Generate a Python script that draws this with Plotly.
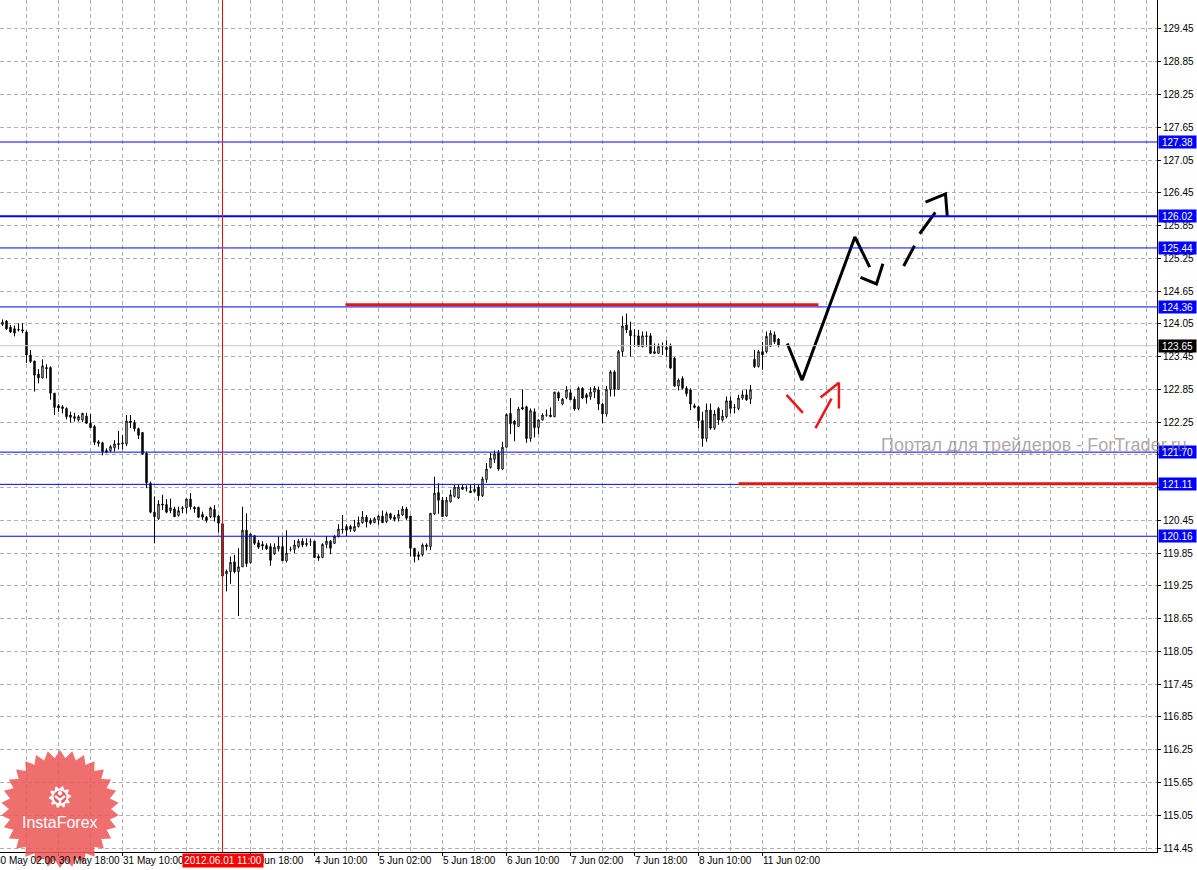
import math
import plotly.graph_objects as go

# ---------------- data ----------------
first_index = 2  # hour index of first visible candle (index 0 = 30 May 02:00)

open_ = [124.04, 124.10, 123.99, 123.96, 123.95, 123.94, 123.90, 123.48, 123.37, 123.13,
         123.06, 123.25, 123.25, 122.78, 122.55, 122.53, 122.50, 122.38, 122.35, 122.29,
         122.29, 122.36, 122.23, 122.17, 121.89, 121.87, 121.73, 121.73, 121.78, 121.86,
         121.85, 121.85, 122.27, 122.24, 122.13, 122.06, 121.68, 121.13, 120.60, 120.48,
         120.75, 120.74, 120.63, 120.66, 120.54, 120.68, 120.68, 120.84, 120.69, 120.69,
         120.56, 120.51, 120.52, 120.65, 120.53, 120.39, 119.47, 119.51, 119.69, 119.51,
         119.60, 120.27, 119.68, 120.17, 120.04, 120.01, 119.99, 119.97, 119.84, 119.93,
         119.97, 119.71, 119.92, 119.92, 119.97, 120.07, 120.03, 120.06, 120.07, 119.79,
         119.77, 120.01, 120.07, 120.03, 120.15, 120.29, 120.34, 120.34, 120.26, 120.34,
         120.41, 120.51, 120.45, 120.41, 120.46, 120.53, 120.43, 120.57, 120.51, 120.49,
         120.55, 120.66, 120.53, 119.94, 119.82, 119.82, 120.00, 119.97, 120.57, 120.96,
         120.82, 120.53, 120.79, 120.89, 120.86, 121.06, 121.04, 120.99, 120.98, 121.06,
         120.90, 121.20, 121.42, 121.57, 121.69, 121.39, 121.79, 122.41, 122.27, 122.17,
         122.52, 122.53, 121.95, 122.44, 122.15, 122.29, 122.38, 122.38, 122.35, 122.79,
         122.58, 122.70, 122.79, 122.67, 122.50, 122.87, 122.75, 122.72, 122.80, 122.84,
         122.58, 122.40, 122.85, 123.17, 122.85, 123.54, 124.03, 123.93, 123.83, 123.83,
         123.63, 123.83, 123.83, 123.54, 123.51, 123.63, 123.62, 123.66, 123.42, 122.91,
         123.05, 122.87, 122.84, 122.55, 122.53, 122.28, 121.95, 122.47, 122.14, 122.50,
         122.29, 122.35, 122.64, 122.52, 122.50, 122.69, 122.75, 122.67, 123.40, 123.27,
         123.54, 123.54, 123.64, 123.85, 123.77]
high = [124.13, 124.12, 124.03, 124.02, 124.06, 124.06, 123.93, 123.57, 123.37, 123.22,
        123.40, 123.31, 123.27, 122.78, 122.58, 122.56, 122.52, 122.44, 122.42, 122.38,
        122.42, 122.42, 122.40, 122.20, 121.92, 121.89, 121.77, 121.83, 121.92, 122.09,
        122.01, 122.38, 122.38, 122.29, 122.15, 122.07, 121.71, 121.16, 120.89, 120.82,
        120.92, 120.84, 120.85, 120.70, 120.70, 120.71, 120.85, 120.95, 120.71, 120.70,
        120.61, 120.53, 120.70, 120.73, 120.55, 120.39, 119.55, 119.79, 119.82, 119.94,
        120.70, 120.58, 120.21, 120.18, 120.09, 120.07, 120.03, 120.03, 120.03, 120.15,
        120.15, 120.27, 119.97, 120.09, 120.11, 120.12, 120.12, 120.12, 120.07, 119.83,
        120.03, 120.16, 120.09, 120.18, 120.38, 120.55, 120.38, 120.37, 120.46, 120.52,
        120.62, 120.55, 120.49, 120.51, 120.55, 120.63, 120.61, 120.59, 120.55, 120.64,
        120.71, 120.70, 120.53, 119.94, 119.88, 120.03, 120.03, 120.58, 121.25, 121.13,
        120.88, 120.88, 121.01, 121.10, 121.10, 121.10, 121.09, 121.10, 121.12, 121.10,
        121.25, 121.50, 121.69, 121.73, 121.74, 121.89, 122.41, 122.69, 122.29, 122.53,
        122.85, 122.55, 122.50, 122.50, 122.30, 122.41, 122.48, 122.52, 122.80, 122.81,
        122.69, 122.91, 122.85, 122.72, 122.90, 122.89, 122.78, 122.89, 122.91, 122.90,
        122.60, 122.91, 123.20, 123.20, 123.57, 124.19, 124.24, 124.09, 123.95, 123.94,
        123.91, 123.91, 123.88, 123.69, 123.69, 123.71, 123.75, 123.69, 123.44, 123.05,
        123.09, 122.91, 122.87, 122.59, 122.55, 122.44, 122.59, 122.59, 122.47, 122.53,
        122.47, 122.72, 122.72, 122.58, 122.75, 122.83, 122.85, 122.93, 123.57, 123.57,
        123.72, 123.91, 123.93, 123.91, 123.79]
low = [124.01, 123.94, 123.88, 123.82, 123.91, 123.88, 123.33, 123.33, 122.81, 122.96,
       123.05, 123.05, 122.66, 122.38, 122.44, 122.41, 122.30, 122.24, 122.26, 122.26,
       122.25, 122.22, 122.14, 121.83, 121.80, 121.64, 121.68, 121.70, 121.71, 121.75,
       121.75, 121.81, 122.14, 122.08, 121.94, 121.65, 121.04, 120.58, 120.03, 120.46,
       120.64, 120.58, 120.58, 120.51, 120.52, 120.58, 120.58, 120.65, 120.59, 120.49,
       120.46, 120.41, 120.49, 120.43, 120.23, 119.42, 119.15, 119.29, 119.48, 118.70,
       119.60, 119.60, 119.66, 120.00, 119.93, 119.91, 119.91, 119.62, 119.82, 119.88,
       119.71, 119.68, 119.88, 119.85, 119.94, 119.96, 119.97, 119.98, 119.76, 119.71,
       119.76, 119.94, 119.83, 120.02, 120.14, 120.21, 120.16, 120.24, 120.24, 120.32,
       120.39, 120.32, 120.37, 120.40, 120.37, 120.40, 120.40, 120.46, 120.43, 120.43,
       120.53, 120.46, 119.79, 119.68, 119.72, 119.79, 119.90, 119.91, 120.55, 120.57,
       120.51, 120.52, 120.78, 120.87, 120.84, 121.01, 120.98, 120.96, 120.96, 120.81,
       120.88, 121.14, 121.40, 121.50, 121.36, 121.37, 121.79, 122.03, 121.90, 122.16,
       122.47, 121.87, 121.89, 121.97, 122.03, 122.28, 122.35, 122.34, 122.34, 122.64,
       122.56, 122.67, 122.66, 122.46, 122.47, 122.67, 122.59, 122.66, 122.69, 122.47,
       122.23, 122.35, 122.72, 122.72, 122.84, 123.45, 123.88, 123.45, 123.63, 123.63,
       123.62, 123.63, 123.50, 123.50, 123.50, 123.48, 123.45, 123.22, 122.90, 122.83,
       122.85, 122.72, 122.47, 122.50, 122.14, 121.80, 121.89, 122.11, 122.11, 122.20,
       122.26, 122.32, 122.41, 122.41, 122.47, 122.66, 122.64, 122.58, 123.24, 123.25,
       123.21, 123.51, 123.63, 123.68, 123.62]
close = [124.08, 123.96, 123.90, 123.88, 123.94, 123.92, 123.48, 123.36, 123.11, 123.06,
         123.28, 123.23, 122.78, 122.52, 122.51, 122.50, 122.35, 122.34, 122.32, 122.35,
         122.41, 122.23, 122.15, 121.88, 121.86, 121.71, 121.70, 121.80, 121.85, 121.84,
         121.87, 122.27, 122.24, 122.13, 122.01, 121.67, 121.14, 120.60, 120.52, 120.75,
         120.73, 120.60, 120.68, 120.52, 120.63, 120.67, 120.84, 120.70, 120.66, 120.51,
         120.51, 120.45, 120.68, 120.51, 120.40, 119.43, 119.52, 119.68, 119.51, 119.60,
         120.27, 119.66, 120.20, 120.03, 119.96, 119.98, 119.93, 119.72, 119.96, 119.98,
         119.71, 119.85, 119.92, 120.00, 120.07, 120.00, 120.01, 120.06, 119.77, 119.76,
         120.01, 120.07, 119.94, 120.16, 120.29, 120.28, 120.27, 120.29, 120.34, 120.41,
         120.51, 120.42, 120.40, 120.48, 120.53, 120.41, 120.57, 120.49, 120.47, 120.56,
         120.66, 120.49, 119.94, 119.79, 119.79, 120.00, 119.97, 120.58, 120.95, 120.82,
         120.52, 120.82, 120.92, 121.06, 121.06, 121.02, 121.04, 120.96, 121.02, 120.90,
         121.21, 121.39, 121.59, 121.67, 121.39, 121.79, 122.39, 122.22, 122.21, 122.49,
         122.49, 121.95, 122.46, 122.15, 122.29, 122.38, 122.38, 122.35, 122.80, 122.69,
         122.67, 122.84, 122.66, 122.49, 122.87, 122.69, 122.70, 122.80, 122.87, 122.58,
         122.40, 122.85, 123.17, 122.85, 123.54, 124.01, 123.94, 123.83, 123.83, 123.64,
         123.83, 123.82, 123.51, 123.51, 123.64, 123.63, 123.58, 123.24, 122.91, 123.02,
         122.87, 122.77, 122.58, 122.52, 122.28, 121.95, 122.47, 122.14, 122.40, 122.29,
         122.36, 122.64, 122.50, 122.52, 122.69, 122.75, 122.66, 122.84, 123.27, 123.54,
         123.48, 123.82, 123.88, 123.72, 123.65]

# visible time labels (the "1 Jun 02:00" label is hidden under the cursor label)
time_tick_index = [0, 16, 32, 64, 80, 96, 112, 128, 144, 160, 176, 192]
time_tick_labels = ["30 May 02:00", "30 May 18:00", "31 May 10:00",
                    "1 Jun 18:00", "4 Jun 10:00", "5 Jun 02:00", "5 Jun 18:00",
                    "6 Jun 10:00", "7 Jun 02:00", "7 Jun 18:00", "8 Jun 10:00",
                    "11 Jun 02:00"]
grid_index = [8, 16, 24, 32, 40, 48, 56, 64, 72, 80, 88, 96, 104, 112, 120, 128, 136,
              144, 152, 160, 168, 176, 184, 192, 200, 208, 216, 224, 232, 240, 248, 256,
              264, 272, 280, 288]

price_ticks = [129.45, 128.85, 128.25, 127.65, 127.05, 126.45, 125.85, 125.25, 124.65,
               124.05, 123.45, 122.85, 122.25, 121.65, 121.05, 120.45, 119.85, 119.25,
               118.65, 118.05, 117.45, 116.85, 116.25, 115.65, 115.05, 114.45]
price_tick_labels = ["129.45", "128.85", "128.25", "127.65", "127.05", "126.45", "125.85",
                     "125.25", "124.65", "124.05", "123.45", "122.85", "122.25", "",
                     "", "120.45", "119.85", "119.25", "118.65", "118.05", "117.45",
                     "116.85", "116.25", "115.65", "115.05", "114.45"]

level_prices = [127.38, 126.02, 125.44, 124.36, 121.70, 121.11, 120.16]
level_labels = ["127.38", "126.02", "125.44", "124.36", "121.70", "121.11", "120.16"]
current_price = 123.65
current_label = "123.65"

marker_index = 57
marker_label = "2012.06.01 11:00"

red_top_level = 124.40
red_top_from, red_top_to = 87.75, 206.0
red_bottom_level = 121.12
red_bottom_from, red_bottom_to = 186.0, 292.0

# hand-drawn forecast arrows (hour index, price)
black_path_x = [198.2, 201.9, 215.1, 218.8, None, 216.5, 220.5, 222.1, None,
                227.3, 230.0, None, 231.3, 235.2, None, 232.75, 237.75, 238.2]
black_path_y = [123.69, 123.02, 125.64, 125.09, None, 124.90, 124.78, 125.15, None,
                125.11, 125.48, None, 125.70, 126.09, None, 126.28, 126.43, 126.01]
red_path_x = [198.0, 202.1, None, 205.25, 209.25, None, 206.5, 211.1, 211.1]
red_path_y = [122.75, 122.42, None, 122.14, 122.68, None, 122.70, 122.97, 122.50]

watermark = "Портал для трейдеров - ForTrader.ru"
logo_text = "InstaForex"

# ---------------- figure ----------------
W, H = 1197, 870
ML, MR, MT, MB = 0, 40, 0, 18
PW, PH = W - ML - MR, H - MT - MB
x_range = [1.375, 1.375 + PW / 4.0]
y_range = [114.377, 129.981]
FONT = "Liberation Sans, Arial, sans-serif"

hour_index = list(range(first_index, first_index + len(open_)))

fig = go.Figure()
fig.add_trace(go.Candlestick(
    x=hour_index, open=open_, high=high, low=low, close=close,
    increasing=dict(line=dict(color="black", width=1), fillcolor="white"),
    decreasing=dict(line=dict(color="black", width=1), fillcolor="black"),
    whiskerwidth=0, showlegend=False, hoverinfo="skip",
))
fig.add_trace(go.Scatter(x=black_path_x, y=black_path_y, mode="lines",
                         line=dict(color="black", width=3), showlegend=False,
                         hoverinfo="skip", connectgaps=False))
fig.add_trace(go.Scatter(x=red_path_x, y=red_path_y, mode="lines",
                         line=dict(color="#ee1515", width=2.5), showlegend=False,
                         hoverinfo="skip", connectgaps=False))

shapes = []
shapes.append(dict(type="line", xref="paper", x0=0, x1=1, yref="y",
                   y0=current_price, y1=current_price,
                   line=dict(color="#c4c8c4", width=1), layer="above"))
for p in level_prices:
    shapes.append(dict(type="line", xref="paper", x0=0, x1=1, yref="y", y0=p, y1=p,
                       line=dict(color="#0000ff", width=2 if p == 126.02 else 1),
                       layer="above"))
shapes.append(dict(type="line", xref="x", x0=red_top_from, x1=red_top_to, yref="y",
                   y0=red_top_level, y1=red_top_level,
                   line=dict(color="#e01818", width=3), layer="above"))
shapes.append(dict(type="line", xref="x", x0=red_bottom_from, x1=red_bottom_to, yref="y",
                   y0=red_bottom_level, y1=red_bottom_level,
                   line=dict(color="#e01818", width=3), layer="above"))
shapes.append(dict(type="line", xref="x", x0=marker_index, x1=marker_index, yref="paper",
                   y0=0, y1=1, line=dict(color="#ff0000", width=1), layer="above"))


def px(xp):
    return (xp - ML) / PW


def py(yp):
    return 1 - (yp - MT) / PH


# InstaForex starburst logo
cx, cy, R_out, R_in, npts = 60, 809, 59, 51, 30
pts = []
for k in range(2 * npts):
    ang = math.pi / 2 + k * math.pi / npts
    rr = R_out if k % 2 == 0 else R_in
    pts.append((cx + rr * math.cos(ang), cy - rr * math.sin(ang)))
star_path = "M " + " L ".join(f"{px(a):.5f},{py(b):.5f}" for a, b in pts) + " Z"
shapes.append(dict(type="path", xref="paper", yref="paper", path=star_path,
                   fillcolor="rgba(236,86,86,0.86)", line=dict(width=0), layer="above"))

gx, gy = 60, 797
gpts = []
for j in range(40):
    ang = j * 2 * math.pi / 40
    rr = 11 if (j // 2) % 2 == 0 else 8.5
    gpts.append((gx + rr * math.cos(ang), gy - rr * math.sin(ang)))
gear_path = "M " + " L ".join(f"{px(a):.5f},{py(b):.5f}" for a, b in gpts) + " Z"
shapes.append(dict(type="path", xref="paper", yref="paper", path=gear_path,
                   fillcolor="white", line=dict(width=0), layer="above"))
shapes.append(dict(type="circle", xref="paper", yref="paper",
                   x0=px(gx - 6.5), x1=px(gx + 6.5), y0=py(gy + 6.5), y1=py(gy - 6.5),
                   fillcolor="rgb(232,90,90)", line=dict(width=0), layer="above"))
shapes.append(dict(type="circle", xref="paper", yref="paper",
                   x0=px(gx - 2.2), x1=px(gx + 2.2), y0=py(gy - 1.5), y1=py(gy - 5.9),
                   fillcolor="white", line=dict(width=0), layer="above"))
y_body = (f"M {px(gx-5):.5f},{py(gy-1):.5f} L {px(gx):.5f},{py(gy+3):.5f} "
          f"L {px(gx+5):.5f},{py(gy-1):.5f} M {px(gx):.5f},{py(gy+3):.5f} "
          f"L {px(gx):.5f},{py(gy+8):.5f}")
shapes.append(dict(type="path", xref="paper", yref="paper", path=y_body,
                   line=dict(color="white", width=2.5), layer="above"))

annotations = []
for idx, lab in zip(time_tick_index, time_tick_labels):
    if x_range[0] <= idx <= x_range[1]:
        xv, xr = idx, "x"
    else:
        xv, xr = (idx - x_range[0]) / (x_range[1] - x_range[0]), "paper"
    annotations.append(dict(x=xv, xref=xr, y=0, yref="paper", text=lab,
                            showarrow=False, xanchor="left", yanchor="top",
                            xshift=-2, yshift=-1,
                            font=dict(family=FONT, size=10, color="black")))
annotations.append(dict(x=marker_index, xref="x", y=0, yref="paper", text=marker_label,
                        showarrow=False, xanchor="center", yanchor="top", yshift=-1,
                        bgcolor="#ff0000", borderpad=0, width=80, height=13,
                        font=dict(family=FONT, size=10, color="white")))
for p, lab in zip(level_prices, level_labels):
    annotations.append(dict(x=1, xref="paper", y=p, yref="y", text=lab, showarrow=False,
                            xanchor="left", yanchor="middle", xshift=1,
                            bgcolor="#0000ff", borderpad=0, width=37, height=12,
                            font=dict(family=FONT, size=10, color="white")))
annotations.append(dict(x=1, xref="paper", y=current_price, yref="y", text=current_label,
                        showarrow=False, xanchor="left", yanchor="middle", xshift=1,
                        bgcolor="black", borderpad=0, width=37, height=12,
                        font=dict(family=FONT, size=10, color="white")))
annotations.append(dict(x=px(cx), xref="paper", y=py(822), yref="paper", text=logo_text,
                        showarrow=False, xanchor="center", yanchor="middle",
                        font=dict(family=FONT, size=16, color="white")))
annotations.append(dict(x=px(879), xref="paper", y=py(445), yref="paper", text=watermark,
                        showarrow=False, xanchor="left", yanchor="middle",
                        font=dict(family=FONT, size=18, color="rgba(140,128,128,0.7)")))

fig.update_layout(
    width=W, height=H,
    margin=dict(l=ML, r=MR, t=MT, b=MB, pad=0),
    paper_bgcolor="white", plot_bgcolor="white",
    showlegend=False, hovermode=False, boxgap=0.5,
    shapes=shapes, annotations=annotations,
    xaxis=dict(range=x_range, rangeslider=dict(visible=False), type="linear",
               tickvals=time_tick_index, ticktext=[""] * len(time_tick_index),
               ticks="outside", ticklen=3, tickcolor="black",
               showgrid=False,
               minor=dict(tickvals=grid_index, showgrid=True, gridcolor="#a9b3a9",
                          griddash="4px,3px", gridwidth=1, ticks=""),
               showline=True, linecolor="black", linewidth=1, zeroline=False,
               fixedrange=True),
    yaxis=dict(range=y_range, side="right", tickvals=price_ticks,
               ticktext=price_tick_labels,
               ticks="outside", ticklen=3, tickcolor="black",
               tickfont=dict(family=FONT, size=10, color="black"),
               showgrid=True, gridcolor="#a9b3a9", griddash="4px,3px", gridwidth=1,
               showline=True, linecolor="black", linewidth=1, zeroline=False,
               fixedrange=True),
)

fig.write_html(
    "out.html",
    config={"displayModeBar": False, "staticPlot": True},
    post_script="document.body.style.margin='0';document.body.style.overflow='hidden';",
)
